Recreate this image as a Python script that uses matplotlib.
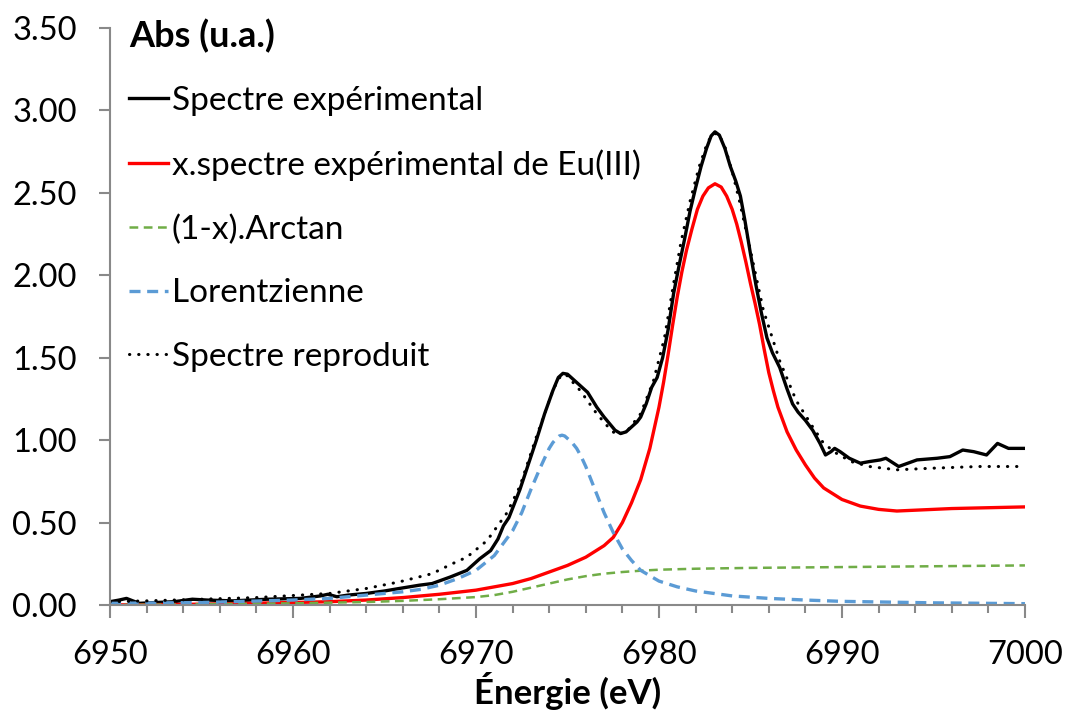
import matplotlib
matplotlib.use("Agg")
import matplotlib.pyplot as plt
from matplotlib.ticker import MultipleLocator

plt.rcParams['font.family'] = ['Lato', 'DejaVu Sans']

# Spectre expérimental (Eu L3 edge)
exp_e = [6950.0, 6950.5, 6950.9, 6951.6, 6952.5, 6953.5, 6954.5, 6955.3, 6956.7,
         6958.6, 6960.4, 6961.5, 6961.9, 6962.4, 6963.0, 6964.0, 6965.0, 6965.8,
         6966.9, 6967.6, 6968.6, 6969.5, 6970.2, 6970.8, 6971.2, 6971.5, 6971.8,
         6972.4, 6972.85, 6973.3, 6973.75, 6974.2, 6974.5, 6974.75, 6975.0, 6975.3,
         6975.7, 6976.1, 6976.6, 6977.0, 6977.3, 6977.6, 6977.9, 6978.2, 6978.5,
         6978.8, 6979.0, 6979.3, 6979.6, 6979.9, 6980.2, 6980.5, 6980.8, 6981.1,
         6981.4, 6981.7, 6982.0, 6982.3, 6982.6, 6982.85, 6983.06, 6983.3, 6983.6,
         6983.9, 6984.2, 6984.45, 6984.7, 6985.0, 6985.3, 6985.6, 6985.9, 6986.2,
         6986.6, 6987.0, 6987.3, 6987.6, 6988.0, 6988.4, 6988.8, 6989.1, 6989.4,
         6989.6, 6989.9, 6990.4, 6991.0, 6991.5, 6992.1, 6992.4, 6993.1, 6994.1,
         6995.2, 6995.9, 6996.6, 6997.2, 6997.9, 6998.5, 6999.1, 7000.0]
exp_abs = [0.02, 0.03, 0.04, 0.01, 0.015, 0.02, 0.035, 0.03, 0.025,
           0.035, 0.04, 0.055, 0.065, 0.05, 0.06, 0.07, 0.085, 0.10,
           0.12, 0.13, 0.17, 0.21, 0.28, 0.33, 0.40, 0.48, 0.53,
           0.70, 0.85, 1.00, 1.16, 1.30, 1.38, 1.405, 1.40, 1.37,
           1.33, 1.29, 1.20, 1.14, 1.10, 1.06, 1.04, 1.05, 1.08,
           1.11, 1.14, 1.22, 1.32, 1.38, 1.50, 1.67, 1.89, 2.06,
           2.22, 2.39, 2.53, 2.66, 2.77, 2.845, 2.87, 2.85, 2.77,
           2.66, 2.57, 2.48, 2.33, 2.13, 1.94, 1.77, 1.62, 1.53,
           1.44, 1.31, 1.22, 1.17, 1.12, 1.06, 0.98, 0.91, 0.93,
           0.95, 0.93, 0.89, 0.86, 0.87, 0.88, 0.89, 0.84, 0.88,
           0.89, 0.90, 0.94, 0.93, 0.91, 0.98, 0.95, 0.95]

# x . spectre expérimental de Eu(III)
eu3_e = [6950, 6955, 6960, 6962, 6964, 6966, 6968, 6970, 6972, 6973, 6974, 6975,
         6976, 6977, 6977.5, 6978, 6978.5, 6979, 6979.5, 6980, 6980.25, 6980.5,
         6980.75, 6981, 6981.25, 6981.5, 6981.8, 6982.1, 6982.4, 6982.7, 6983.06,
         6983.4, 6983.7, 6984, 6984.25, 6984.5, 6984.75, 6985, 6985.25, 6985.5,
         6985.75, 6986, 6986.25, 6986.5, 6987, 6987.5, 6988, 6988.5, 6989, 6990,
         6991, 6992, 6993, 6994, 6996, 6998, 7000]
eu3_abs = [0.0, 0.005, 0.015, 0.02, 0.03, 0.045, 0.065, 0.09, 0.13, 0.16, 0.20, 0.24,
           0.29, 0.36, 0.41, 0.50, 0.62, 0.76, 0.95, 1.20, 1.35, 1.52,
           1.70, 1.87, 2.02, 2.15, 2.28, 2.40, 2.48, 2.53, 2.555,
           2.535, 2.48, 2.40, 2.31, 2.20, 2.08, 1.95, 1.83, 1.70,
           1.55, 1.41, 1.30, 1.20, 1.05, 0.94, 0.85, 0.77, 0.71, 0.64,
           0.60, 0.58, 0.57, 0.575, 0.585, 0.59, 0.595]

# (1-x) . Arctan
atan_e = [6950, 6955, 6960, 6964, 6966, 6968, 6970, 6971, 6972, 6973, 6974, 6975,
          6976, 6977, 6978, 6979, 6980, 6982, 6985, 6990, 6995, 7000]
atan_abs = [0.0, 0.005, 0.01, 0.018, 0.025, 0.035, 0.048, 0.06, 0.08, 0.105, 0.13,
            0.155, 0.175, 0.19, 0.20, 0.208, 0.214, 0.22, 0.225, 0.23, 0.235, 0.24]

# Lorentzienne
lor_e = [6950, 6955, 6960, 6962, 6964, 6966, 6967, 6968, 6969, 6970, 6971, 6972,
         6972.5, 6973, 6973.5, 6974, 6974.2, 6974.4, 6974.55, 6974.7, 6974.85,
         6975, 6975.25, 6975.5, 6975.75, 6976, 6976.5, 6977, 6977.5, 6978, 6978.5,
         6979, 6980, 6981, 6982, 6984, 6986, 6988, 6990, 6995, 7000]
lor_abs = [0.01, 0.015, 0.03, 0.04, 0.06, 0.08, 0.095, 0.12, 0.16, 0.21, 0.30, 0.45,
           0.56, 0.70, 0.83, 0.95, 0.985, 1.01, 1.025, 1.03, 1.025,
           1.01, 0.985, 0.95, 0.90, 0.84, 0.70, 0.56, 0.44, 0.34, 0.27,
           0.21, 0.145, 0.11, 0.085, 0.055, 0.04, 0.03, 0.022, 0.013, 0.008]

# Spectre reproduit
fit_e = [6950, 6952, 6955, 6958, 6960.4, 6962, 6964, 6965.8, 6967.6, 6968.7, 6969.5,
         6970.6, 6971.7, 6972.4, 6973.3, 6974.2, 6974.5, 6974.75, 6975.0, 6975.3,
         6975.7, 6976.6, 6977.3, 6977.7, 6978.3, 6979.0, 6979.7, 6980.3, 6980.8,
         6981.2, 6981.7, 6982.2, 6982.6, 6982.85, 6983.06, 6983.3, 6983.6, 6984.0,
         6984.4, 6985.0, 6985.7, 6986.6, 6987.5, 6988.4, 6989.0, 6989.7, 6990.5,
         6991.5, 6993.0, 6995.0, 6997.5, 7000.0]
fit_abs = [0.02, 0.025, 0.035, 0.045, 0.06, 0.07, 0.10, 0.14, 0.19, 0.25, 0.29,
           0.39, 0.56, 0.72, 1.02, 1.30, 1.37, 1.40, 1.39, 1.35,
           1.30, 1.16, 1.07, 1.03, 1.06, 1.16, 1.36, 1.62, 1.95,
           2.20, 2.45, 2.66, 2.79, 2.845, 2.86, 2.85, 2.78, 2.63,
           2.45, 2.15, 1.79, 1.48, 1.24, 1.08, 0.98, 0.92, 0.87,
           0.84, 0.82, 0.83, 0.84, 0.84]

AXIS_GREY = '#898989'

fig = plt.figure(figsize=(10.65, 7.21), dpi=100)
ax = fig.add_axes([0.1033, 0.1609, 0.8591, 0.8003])

ax.plot(exp_e, exp_abs, color='black', lw=2.4, label='Spectre expérimental',
        solid_joinstyle='round')
ax.plot(eu3_e, eu3_abs, color='#FF0000', lw=2.4,
        label='x.spectre expérimental de Eu(III)', solid_joinstyle='round')
ax.plot(atan_e, atan_abs, color='#70AD47', lw=1.8, ls=(0, (3.5, 2.2)),
        label='(1-x).Arctan')
ax.plot(lor_e, lor_abs, color='#5B9BD5', lw=2.4, ls=(0, (3.3, 2.0)),
        label='Lorentzienne')
ax.plot(fit_e, fit_abs, color='black', lw=2.2, ls=(0, (0.1, 2.9)),
        dash_capstyle='round', label='Spectre reproduit')

ax.set_xlim(6950, 7000)
ax.set_ylim(0, 3.5)
ax.xaxis.set_major_locator(MultipleLocator(10))
ax.xaxis.set_minor_locator(MultipleLocator(2))
ax.yaxis.set_major_locator(MultipleLocator(0.5))
ax.yaxis.set_major_formatter(plt.FuncFormatter(lambda v, p: f'{v:.2f}'))

for side in ('top', 'right'):
    ax.spines[side].set_visible(False)
for side in ('left', 'bottom'):
    ax.spines[side].set_color(AXIS_GREY)
    ax.spines[side].set_linewidth(1.5)

ax.tick_params(axis='both', which='both', direction='out', color=AXIS_GREY,
               width=1.5, labelsize=23.5)
ax.tick_params(axis='x', which='major', length=9, pad=16)
ax.tick_params(axis='x', which='minor', length=6)
ax.tick_params(axis='y', which='major', length=8, pad=16)

ax.set_xlabel('Énergie (eV)', fontsize=25, fontweight='bold', labelpad=2)

leg = ax.legend(loc='upper left', bbox_to_anchor=(-0.0045, 1.057), frameon=False,
                fontsize=24, handlelength=1.15, handletextpad=0.12,
                labelspacing=1.0, borderaxespad=0.3,
                title='Abs (u.a.)', alignment='left',
                title_fontproperties={'size': 26, 'weight': 'bold'})

fig.savefig('out.png', dpi=100)
